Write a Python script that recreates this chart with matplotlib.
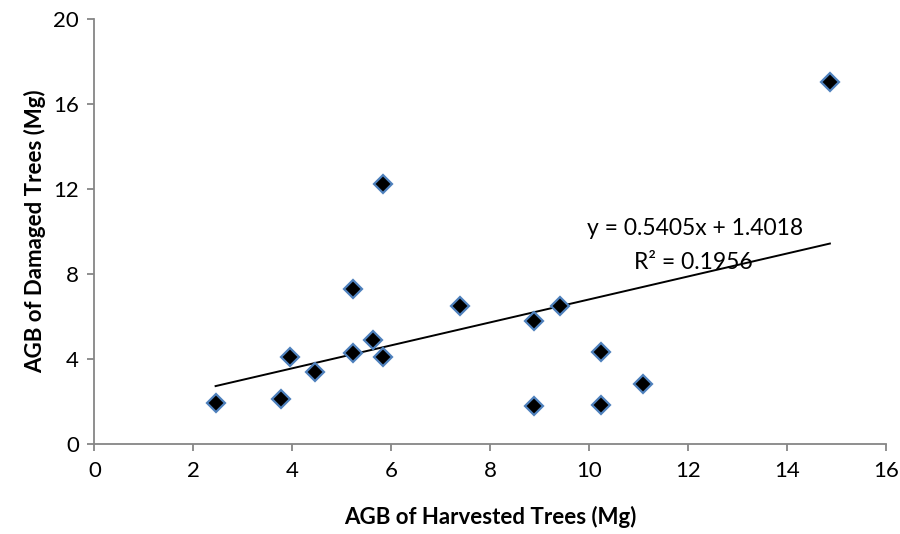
import matplotlib
matplotlib.use("Agg")
import matplotlib.pyplot as plt
import numpy as np

plt.rcParams['font.family'] = ['Lato', 'DejaVu Sans']

# AGB of harvested trees (Mg) vs AGB of damaged trees (Mg)
harvested = [2.45, 3.77, 3.95, 4.46, 5.22, 5.23, 5.62, 5.84, 5.84, 7.39,
             8.88, 8.88, 9.41, 10.23, 10.23, 11.09, 14.86]
damaged = [1.92, 2.12, 4.11, 3.40, 4.30, 7.28, 4.89, 4.08, 12.22, 6.49,
           5.80, 1.79, 6.49, 4.31, 1.82, 2.81, 17.02]

slope = 0.5405
intercept = 1.4018
r2 = 0.1956

x_ticks = [0, 2, 4, 6, 8, 10, 12, 14, 16]
y_ticks = [0, 4, 8, 12, 16, 20]

fig = plt.figure(figsize=(9, 5.34), dpi=100)
ax = fig.add_axes([0.1048, 0.1685, 0.88, 0.7959])

ax.plot(harvested, damaged, linestyle='none', marker='D', markersize=9.5,
        markerfacecolor='black', markeredgecolor='#4F81BD', markeredgewidth=1.6,
        zorder=3)

# linear trendline
xs = np.array([min(harvested), max(harvested)])
ax.plot(xs, slope * xs + intercept, color='black', linewidth=1.4, zorder=2)

ax.text(12.13, 10.12, f"y = {slope}x + {intercept}", fontsize=16.5,
        ha='center', va='center')
ax.text(12.1, 8.52, f"R² = {r2}", fontsize=16.5, ha='center', va='center')

ax.set_xlim(0, 16)
ax.set_ylim(0, 20)
ax.set_xticks(x_ticks)
ax.set_yticks(y_ticks)
ax.tick_params(labelsize=16, color='#868686', length=5, width=1.3)
ax.tick_params(axis='x', pad=7)
ax.tick_params(axis='y', pad=6)
for s in ['top', 'right']:
    ax.spines[s].set_visible(False)
for s in ['left', 'bottom']:
    ax.spines[s].set_color('#868686')
    ax.spines[s].set_linewidth(1.3)

ax.set_xlabel("AGB of Harvested Trees (Mg)", fontsize=16, fontweight='bold',
              labelpad=18)
ax.set_ylabel("AGB of Damaged Trees (Mg)", fontsize=16, fontweight='bold',
              labelpad=5)

fig.savefig("out.png", dpi=100)
